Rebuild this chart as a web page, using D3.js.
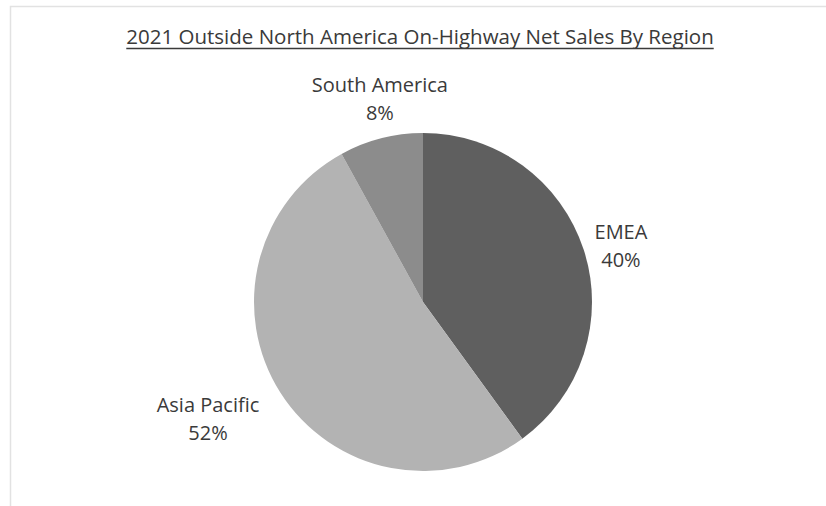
<!DOCTYPE html>
<html>
<head>
<meta charset="utf-8">
<script src="https://cdn.jsdelivr.net/npm/d3@7"></script>
<style>
  html, body { margin: 0; padding: 0; background: #fff; }
  svg { display: block; }
</style>
</head>
<body>
<svg id="chart" width="826" height="506"></svg>
<script>
const title = "2021 Outside North America On-Highway Net Sales By Region";
const regions = ["EMEA", "Asia Pacific", "South America"];
const shares = [40, 52, 8];
const pctLabels = ["40%", "52%", "8%"];
const sliceColors = ["#5f5f5f", "#b3b3b3", "#8c8c8c"];
// label anchor positions in polar form relative to pie (angle deg clockwise from top, radius factor)
const labelPolar = [[71.8, 1.233], [243.3, 1.424], [348.5, 1.28]];

const svg = d3.select("#chart");
const cx = 423, cy = 302, R = 169;
const font = "'Open Sans', 'Noto Sans', sans-serif";
const textColor = "#3a3a3a";

// frame
svg.append("path")
  .attr("d", `M826,6.5 H10.5 V506`)
  .attr("fill", "none")
  .attr("stroke", "#e2e2e2")
  .attr("stroke-width", 1.5);

// title
const t = svg.append("text")
  .attr("x", 420).attr("y", 44)
  .attr("text-anchor", "middle")
  .attr("font-family", font)
  .attr("font-size", 20.5)
  .attr("fill", textColor)
  .text(title);
const tw = t.node().getComputedTextLength();
svg.append("line")
  .attr("x1", 420 - tw / 2).attr("x2", 420 + tw / 2)
  .attr("y1", 48.5).attr("y2", 48.5)
  .attr("stroke", textColor).attr("stroke-width", 1.3);

const data = regions.map((r, i) => ({ region: r, value: shares[i], pct: pctLabels[i], lp: labelPolar[i] }));
const pie = d3.pie().sort(null).value(d => d.value).startAngle(0).endAngle(2 * Math.PI);
const arc = d3.arc().innerRadius(0).outerRadius(R);
const color = d3.scaleOrdinal().domain(regions).range(sliceColors);

const g = svg.append("g").attr("transform", `translate(${cx},${cy})`);
g.selectAll("path.slice")
  .data(pie(data))
  .join("path")
  .attr("class", "slice")
  .attr("d", arc)
  .attr("fill", d => color(d.data.region));

const labels = g.selectAll("g.lbl")
  .data(data)
  .join("g")
  .attr("class", "lbl")
  .attr("transform", d => {
    const a = d.lp[0] * Math.PI / 180, r = d.lp[1] * R;
    return `translate(${r * Math.sin(a)},${-r * Math.cos(a)})`;
  });
labels.append("text")
  .attr("text-anchor", "middle")
  .attr("y", 2)
  .attr("font-family", font).attr("font-size", 20)
  .attr("fill", textColor)
  .text(d => d.region);
labels.append("text")
  .attr("text-anchor", "middle")
  .attr("y", 30)
  .attr("font-family", font).attr("font-size", 20)
  .attr("fill", textColor)
  .text(d => d.pct);
</script>
</body>
</html>
